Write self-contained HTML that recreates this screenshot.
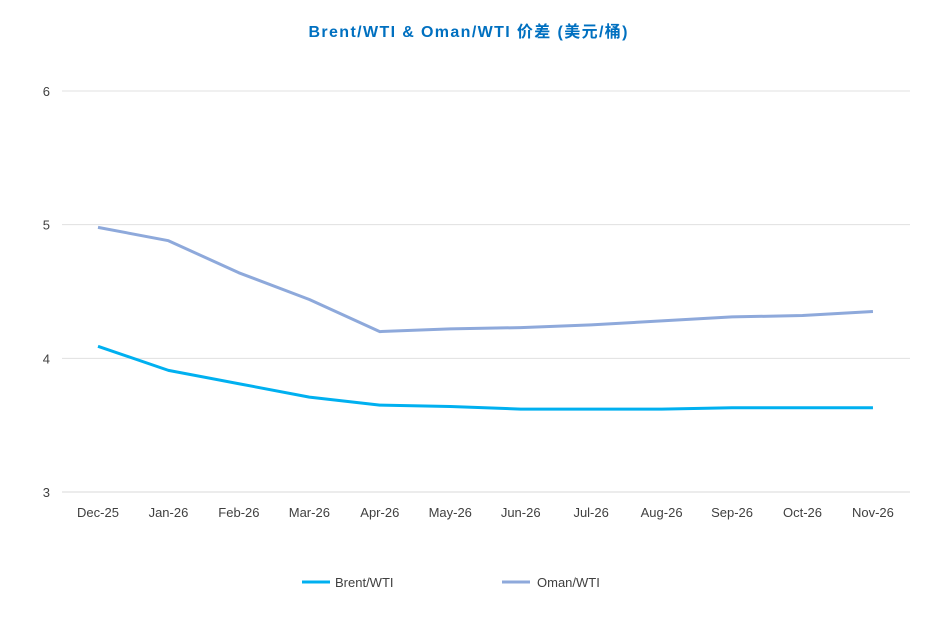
<!DOCTYPE html>
<html><head><meta charset="utf-8"><style>
body{margin:0;background:#fff;}
svg text{font-family:"Liberation Sans","Noto Sans CJK SC",sans-serif;}
</style></head><body>
<svg id="chart" width="937" height="634">
<text x="468" y="37" text-anchor="middle" font-size="16" font-weight="bold" fill="#0070C0" textLength="319" lengthAdjust="spacing">Brent/WTI &amp; Oman/WTI 价差 (美元/桶)</text>
<g id="grid"></g><g id="series"></g>
<g>
<line x1="302" y1="582" x2="330" y2="582" stroke="#00B0F0" stroke-width="3"/>
<text x="335" y="587" font-size="13" fill="#404040">Brent/WTI</text>
<line x1="502" y1="582" x2="530" y2="582" stroke="#8EA9DB" stroke-width="3"/>
<text x="537" y="587" font-size="13" fill="#404040">Oman/WTI</text>
</g>
</svg>
<script>
const categories=["Dec-25","Jan-26","Feb-26","Mar-26","Apr-26","May-26","Jun-26","Jul-26","Aug-26","Sep-26","Oct-26","Nov-26"];
const brentWti=[4.09,3.91,3.81,3.71,3.65,3.64,3.62,3.62,3.62,3.63,3.63,3.63];
const omanWti=[4.98,4.88,4.64,4.44,4.20,4.22,4.23,4.25,4.28,4.31,4.32,4.35];
const yTicks=[3,4,5,6];
const NS="http://www.w3.org/2000/svg";
const x0=98,dx=70.45,yMin=3,yMax=6,yTop=91,yBot=492;
const xs=i=>x0+i*dx;
const ys=v=>yBot-(v-yMin)/(yMax-yMin)*(yBot-yTop);
const grid=document.getElementById('grid'),ser=document.getElementById('series');
function mk(t,a,p){const e=document.createElementNS(NS,t);for(const k in a)e.setAttribute(k,a[k]);p.appendChild(e);return e;}
yTicks.forEach(v=>{
 const l=mk('line',{x1:62,x2:910,y1:ys(v),y2:ys(v),stroke:v===yMin?'#D9D9D9':'#E0E0E0','stroke-width':1},grid);
 
 
 const t=mk('text',{x:50,y:ys(v)+5,'text-anchor':'end','font-size':13,fill:'#404040'},grid);
 t.textContent=v;
 
 
});
categories.forEach((c,i)=>{
 const t=mk('text',{x:xs(i),y:517,'text-anchor':'middle','font-size':13,fill:'#404040'},grid);
 t.textContent=c;
 
 
});
function line(d,col,name){
 const p=mk('polyline',{points:d.map((v,i)=>xs(i)+','+ys(v)).join(' '),fill:'none',stroke:col,'stroke-width':3,'stroke-linejoin':'round'},ser);
 
 
}
line(omanWti,'#8EA9DB','oman-wti-line');
line(brentWti,'#00B0F0','brent-wti-line');
</script>
</body></html>
